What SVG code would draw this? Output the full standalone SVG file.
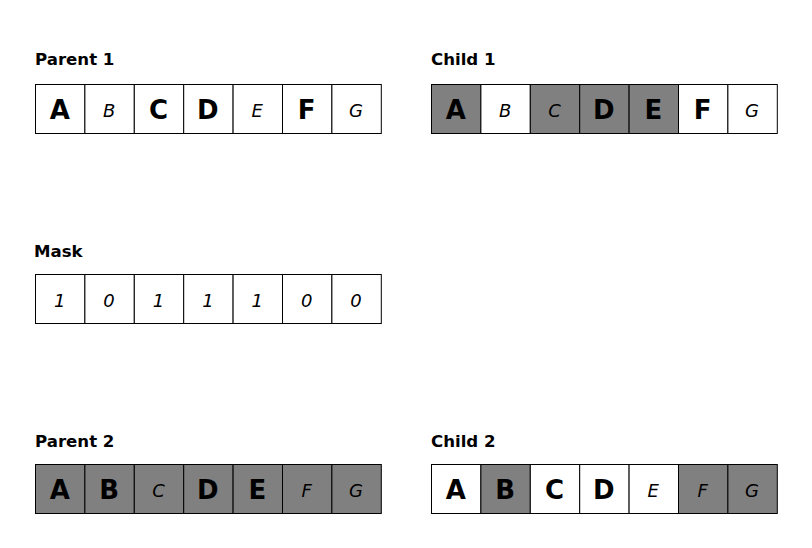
<svg xmlns="http://www.w3.org/2000/svg" width="812" height="548" viewBox="0 0 812 548">
<style>
.bg{fill:#fff}
.c{fill:#fff;stroke:#000;stroke-width:1}
.g{fill:#808080;stroke:#000;stroke-width:1}
.t{font-family:"DejaVu Sans",sans-serif;font-size:16.6px;font-weight:bold;fill:#000}
.b{font-family:"DejaVu Sans",sans-serif;font-size:26px;font-weight:bold;fill:#000;text-anchor:middle}
.i{font-family:"DejaVu Sans",sans-serif;font-size:18px;font-style:italic;fill:#000;text-anchor:middle}
</style>
<rect class="bg" x="0" y="0" width="812" height="548"/>
<g id="parent1">
<text class="t" x="35" y="64.7">Parent 1</text>
<rect class="c" x="35.5" y="84.5" width="49.4" height="49"/>
<rect class="c" x="84.9" y="84.5" width="49.4" height="49"/>
<rect class="c" x="134.3" y="84.5" width="49.4" height="49"/>
<rect class="c" x="183.7" y="84.5" width="49.4" height="49"/>
<rect class="c" x="233.1" y="84.5" width="49.4" height="49"/>
<rect class="c" x="282.5" y="84.5" width="49.4" height="49"/>
<rect class="c" x="331.9" y="84.5" width="49.4" height="49"/>
<text class="b" x="59.7" y="118.5">A</text>
<text class="i" x="109.1" y="116.7">B</text>
<text class="b" x="158.5" y="118.5">C</text>
<text class="b" x="207.9" y="118.5">D</text>
<text class="i" x="257.3" y="116.7">E</text>
<text class="b" x="306.7" y="118.5">F</text>
<text class="i" x="356.1" y="116.7">G</text>
</g>
<g id="mask">
<text class="t" x="34" y="256.7">Mask</text>
<rect class="c" x="35.5" y="274.5" width="49.4" height="49"/>
<rect class="c" x="84.9" y="274.5" width="49.4" height="49"/>
<rect class="c" x="134.3" y="274.5" width="49.4" height="49"/>
<rect class="c" x="183.7" y="274.5" width="49.4" height="49"/>
<rect class="c" x="233.1" y="274.5" width="49.4" height="49"/>
<rect class="c" x="282.5" y="274.5" width="49.4" height="49"/>
<rect class="c" x="331.9" y="274.5" width="49.4" height="49"/>
<text class="i" x="59.7" y="306.7">1</text>
<text class="i" x="109.1" y="306.7">0</text>
<text class="i" x="158.5" y="306.7">1</text>
<text class="i" x="207.9" y="306.7">1</text>
<text class="i" x="257.3" y="306.7">1</text>
<text class="i" x="306.7" y="306.7">0</text>
<text class="i" x="356.1" y="306.7">0</text>
</g>
<g id="parent2">
<text class="t" x="35" y="446.7">Parent 2</text>
<rect class="g" x="35.5" y="464.5" width="49.4" height="49"/>
<rect class="g" x="84.9" y="464.5" width="49.4" height="49"/>
<rect class="g" x="134.3" y="464.5" width="49.4" height="49"/>
<rect class="g" x="183.7" y="464.5" width="49.4" height="49"/>
<rect class="g" x="233.1" y="464.5" width="49.4" height="49"/>
<rect class="g" x="282.5" y="464.5" width="49.4" height="49"/>
<rect class="g" x="331.9" y="464.5" width="49.4" height="49"/>
<text class="b" x="59.7" y="498.5">A</text>
<text class="b" x="109.1" y="498.5">B</text>
<text class="i" x="158.5" y="496.7">C</text>
<text class="b" x="207.9" y="498.5">D</text>
<text class="b" x="257.3" y="498.5">E</text>
<text class="i" x="306.7" y="496.7">F</text>
<text class="i" x="356.1" y="496.7">G</text>
</g>
<g id="child1">
<text class="t" x="431" y="64.7">Child 1</text>
<rect class="g" x="431.5" y="84.5" width="49.4" height="49"/>
<rect class="c" x="480.9" y="84.5" width="49.4" height="49"/>
<rect class="g" x="530.3" y="84.5" width="49.4" height="49"/>
<rect class="g" x="579.7" y="84.5" width="49.4" height="49"/>
<rect class="g" x="629.1" y="84.5" width="49.4" height="49"/>
<rect class="c" x="678.5" y="84.5" width="49.4" height="49"/>
<rect class="c" x="727.9" y="84.5" width="49.4" height="49"/>
<text class="b" x="455.7" y="118.5">A</text>
<text class="i" x="505.1" y="116.7">B</text>
<text class="i" x="554.5" y="116.7">C</text>
<text class="b" x="603.9" y="118.5">D</text>
<text class="b" x="653.3" y="118.5">E</text>
<text class="b" x="702.7" y="118.5">F</text>
<text class="i" x="752.1" y="116.7">G</text>
</g>
<g id="child2">
<text class="t" x="431" y="446.7">Child 2</text>
<rect class="c" x="431.5" y="464.5" width="49.4" height="49"/>
<rect class="g" x="480.9" y="464.5" width="49.4" height="49"/>
<rect class="c" x="530.3" y="464.5" width="49.4" height="49"/>
<rect class="c" x="579.7" y="464.5" width="49.4" height="49"/>
<rect class="c" x="629.1" y="464.5" width="49.4" height="49"/>
<rect class="g" x="678.5" y="464.5" width="49.4" height="49"/>
<rect class="g" x="727.9" y="464.5" width="49.4" height="49"/>
<text class="b" x="455.7" y="498.5">A</text>
<text class="b" x="505.1" y="498.5">B</text>
<text class="b" x="554.5" y="498.5">C</text>
<text class="b" x="603.9" y="498.5">D</text>
<text class="i" x="653.3" y="496.7">E</text>
<text class="i" x="702.7" y="496.7">F</text>
<text class="i" x="752.1" y="496.7">G</text>
</g>
<g id="connectors"></g>
</svg>
